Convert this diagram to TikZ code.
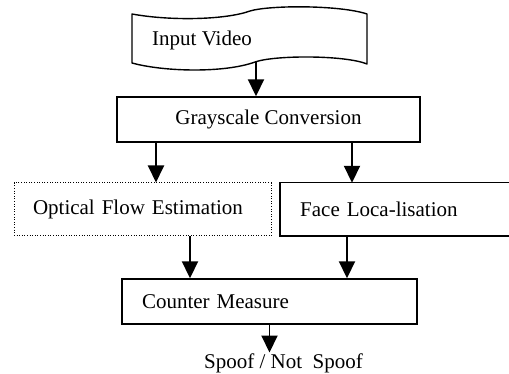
\documentclass[tikz,border=0pt]{standalone}
\usepackage{fontspec}
\setmainfont{Liberation Serif}
\usetikzlibrary{arrows.meta}
\begin{document}
\begin{tikzpicture}[x=1pt,y=-1pt,
  every node/.style={font=\fontsize{21}{25}\selectfont},
  boxline/.style={line width=1.4pt},
  stepbox/.style={boxline, draw, rectangle, inner ysep=0pt, minimum height=45pt},
  dotbox/.style={draw, line width=1pt, dash pattern=on 1pt off 1.6pt, rectangle, inner ysep=0pt},
  flow/.style={line width=1.9pt, -{Triangle[width=16pt,length=17pt]}},
]
\useasboundingbox (0,0) rectangle (509,374);

% input tape (wavy top and bottom edges)
\draw[boxline, line join=round]
  (132,14) .. controls (170,21) and (225,20) .. (250,11)
           .. controls (270,5) and (340,5) .. (367,14)
  -- (367,64) .. controls (345,55) and (275,55) .. (255,62)
              .. controls (225,73) and (165,72) .. (132,63) -- cycle;
\node (input) at (202,40) {Input Video};
\coordinate (tapeout) at (256,62);

% processing steps
\node[stepbox, minimum width=303pt] (gray) at (268.5,119.5) {Grayscale Conversion};

\node[dotbox, minimum height=53pt, inner xsep=19pt, text width=219pt, align=left]
  (optical) at (142.5,209.5) {Optical Flow Estimation};

\node[rectangle, inner ysep=0pt, minimum height=53pt, inner xsep=20pt, text width=189pt,
  align=left, anchor=west] (face) at (280,209.5) {Face Loca-lisation};
\draw[boxline] (face.north east) -- (face.north west) -- (face.south west) -- (face.south east);

\node[stepbox, inner xsep=20pt, text width=255pt, align=left]
  (counter) at (269.5,301.5) {Counter Measure};

\node[inner sep=1pt, anchor=base] (result) at (283.5,368.5) {Spoof / Not\ \ Spoof};

% connectors
\coordinate (c1) at (156,0);
\coordinate (c2) at (352,0);
\coordinate (c3) at (190,0);
\coordinate (c4) at (347,0);

\draw[flow] (tapeout) -- (tapeout |- gray.north);
\draw[flow] (c1 |- gray.south) -- (c1 |- optical.north);
\draw[flow] (c2 |- gray.south) -- (c2 |- face.north);
\draw[flow] (c3 |- optical.south) -- (c3 |- counter.north);
\draw[flow] (c4 |- face.south) -- (c4 |- counter.north);
\draw[flow] (counter.south) -- (counter.south |- result.north);
\end{tikzpicture}
\end{document}
